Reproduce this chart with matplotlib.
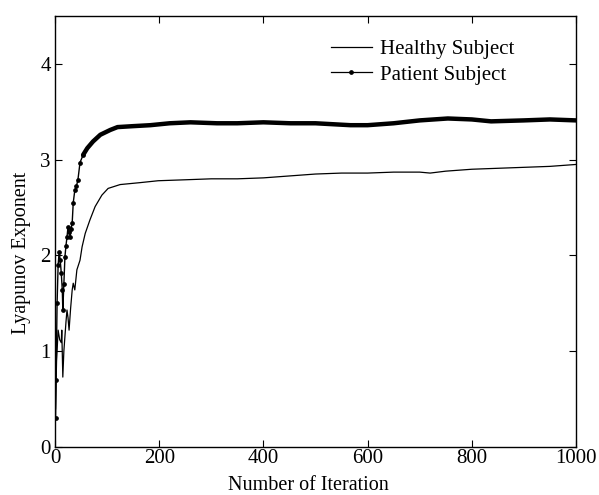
import matplotlib
matplotlib.use("Agg")
import matplotlib.pyplot as plt
from matplotlib.lines import Line2D

plt.rcParams['font.family'] = ['Liberation Serif', 'DejaVu Serif']

healthy_iter = [1, 3, 6, 9, 12, 13, 15, 17, 19, 21, 23, 25, 27, 30, 33, 35, 38, 42, 48, 52,
                58, 67, 77, 90, 102, 125, 163, 198, 250, 300, 350, 400, 450, 500, 550, 600,
                650, 700, 720, 750, 800, 850, 900, 950, 1000]
healthy_val = [0.40, 0.90, 1.22, 1.12, 1.09, 1.22, 0.73, 1.00, 1.15, 1.30, 1.43, 1.35, 1.22, 1.45,
               1.64, 1.71, 1.64, 1.85, 1.95, 2.09, 2.23, 2.37, 2.51, 2.63, 2.70, 2.74, 2.76,
               2.78, 2.79, 2.80, 2.80, 2.81, 2.83, 2.85, 2.86, 2.86, 2.87, 2.87, 2.86, 2.88,
               2.90, 2.91, 2.92, 2.93, 2.95]

patient_iter = [1, 2, 4, 6, 8, 10, 12, 14, 15, 17, 19, 21, 23, 25, 27, 29, 31, 33, 35, 38,
                41, 44, 48, 54, 62, 73, 87, 106, 120, 150, 183, 220, 260, 311, 350, 400, 452,
                500, 567, 600, 650, 700, 754, 800, 837, 900, 950, 1000]
patient_val = [0.30, 0.70, 1.50, 1.90, 2.04, 1.95, 1.82, 1.64, 1.43, 1.70, 1.98, 2.10, 2.19,
               2.30, 2.25, 2.19, 2.28, 2.34, 2.55, 2.68, 2.72, 2.79, 2.97, 3.05, 3.12, 3.19,
               3.26, 3.31, 3.34, 3.35, 3.36, 3.38, 3.39, 3.38, 3.38, 3.39, 3.38, 3.38, 3.36,
               3.36, 3.38, 3.41, 3.43, 3.42, 3.40, 3.41, 3.42, 3.41]

xticks = [0, 200, 400, 600, 800, 1000]
yticks = [0, 1, 2, 3, 4]

W, H = 599, 495
fig = plt.figure(figsize=(W / 100, H / 100), dpi=100)
L, R, T, B = 55, 576, 16, 447
ax = fig.add_axes([L / W, (H - B) / H, (R - L) / W, (B - T) / H])

ax.plot(healthy_iter, healthy_val, color='black', lw=0.9)

split = 24
ax.plot(patient_iter[:split], patient_val[:split], color='black', lw=1.0,
        marker='o', ms=2.4)
ax.plot(patient_iter[split-1:], patient_val[split-1:], color='black', lw=3.2,
        solid_capstyle='round')

ax.set_xlim(0, 1000)
ax.set_ylim(0, 4.5)
ax.set_xticks(xticks)
ax.set_yticks(yticks)
ax.tick_params(direction='in', top=True, right=True, length=5, width=0.8,
               labelsize=15)
ax.tick_params(axis='x', pad=1.5)
ax.tick_params(axis='y', pad=3)
for s in ax.spines.values():
    s.set_linewidth(1.0)

ax.set_xlabel('Number of Iteration', fontsize=14.5)
ax.set_ylabel('Lyapunov Exponent', fontsize=14.5)
ax.xaxis.set_label_coords(0.486, -0.068)
ax.yaxis.set_label_coords(-0.047, 0.45)

handles = [Line2D([], [], color='black', lw=0.9),
           Line2D([], [], color='black', lw=0.9, marker='o', ms=2.4)]
leg = ax.legend(handles, ['Healthy Subject', 'Patient Subject'], frameon=False,
                loc='upper left', bbox_to_anchor=(0.506, 0.975), fontsize=15,
                handlelength=1.95, handletextpad=0.4, labelspacing=0.3, numpoints=1,
                borderaxespad=0.2)

fig.savefig('out.png', dpi=100)
